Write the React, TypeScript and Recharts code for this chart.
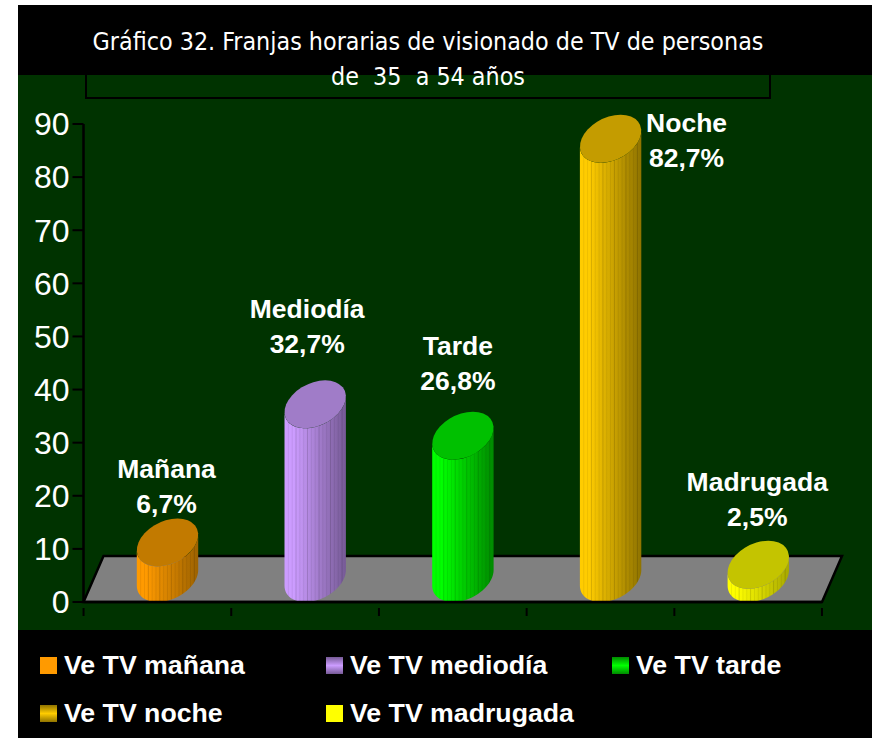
import React from 'react';
import { BarChart, Bar, XAxis, YAxis, ReferenceLine, LabelList } from 'recharts';

const franjas = ['Mañana', 'Mediodía', 'Tarde', 'Noche', 'Madrugada'];
const porcentajes = [6.7, 32.7, 26.8, 82.7, 2.5];
const etiquetas = ['6,7%', '32,7%', '26,8%', '82,7%', '2,5%'];
const leyenda = ['Ve TV mañana', 'Ve TV mediodía', 'Ve TV tarde', 'Ve TV noche', 'Ve TV madrugada'];
const yTicks = [0, 10, 20, 30, 40, 50, 60, 70, 80, 90];

const topColors = ['#C27A00', '#A07CC8', '#00C000', '#C49C00', '#C4C400'];
const lightColors = ['#FF9A00', '#CC9CFF', '#00FF00', '#FFCC00', '#FFFF00'];
const darkColors = ['#9C6200', '#765A96', '#008A00', '#8F7300', '#A8A800'];

// where each two-line label sits relative to the top of its cylinder
const labelDx = [-1, -8, -5, 76, -1];
const labelDy = [-7, -29, -24, 50, -17];

const chartData = franjas.map((name, i) => ({ name, value: porcentajes[i], label: etiquetas[i] }));

const DEPTH_X = 20;
const DEPTH_Y = 46;
const ELLIPSE_H = 24;
const BAND = 147.6;
const FONT = '"Liberation Sans", Arial, sans-serif';

const ellipsePoint = (cx: number, cy: number, a: number, t: number) => [
  cx + a * Math.cos(t) + (DEPTH_X / 2) * Math.sin(t),
  cy - ELLIPSE_H * Math.sin(t),
];

const Cylinder = (props: any) => {
  const { x, y, width, height, index } = props;
  const a = width / 2;
  const cx = x + width / 2 + DEPTH_X / 2;
  const topY = y - ELLIPSE_H;
  const baseY = y + height - ELLIPSE_H;
  const t0 = Math.atan2(DEPTH_X / 2, a);

  // side of the cylinder: lower half of base ellipse, then lower half of top ellipse
  const pts: number[][] = [];
  for (let k = 0; k <= 40; k++) pts.push(ellipsePoint(cx, baseY, a, t0 + Math.PI + (Math.PI * k) / 40));
  for (let k = 40; k >= 0; k--) pts.push(ellipsePoint(cx, topY, a, t0 + Math.PI + (Math.PI * k) / 40));
  const body = 'M' + pts.map((p) => `${p[0].toFixed(1)},${p[1].toFixed(1)}`).join('L') + 'Z';

  const halfW = Math.sqrt(a * a + (DEPTH_X / 2) * (DEPTH_X / 2));
  const stripes = [];
  for (let k = 1; k < 16; k++) {
    const sx = cx - halfW + (k * 2 * halfW) / 16;
    stripes.push(
      <line key={k} x1={sx} x2={sx} y1={topY - 30} y2={baseY + 30} stroke="#000" strokeOpacity={k % 3 === 0 ? 0.14 : 0.07} strokeWidth={1} />
    );
  }

  return (
    <g>
      <clipPath id={`cyl-${index}`}>
        <path d={body} />
      </clipPath>
      <path d={body} fill={`url(#side-${index})`} />
      <g clipPath={`url(#cyl-${index})`}>{stripes}</g>
      <circle r={1} fill={topColors[index]} transform={`matrix(${a},0,${DEPTH_X / 2},${-ELLIPSE_H},${cx},${topY})`} />
    </g>
  );
};

const Floor = (props: any) => {
  const { x1, x2, y1 } = props.x1 !== undefined ? props : { x1: props.viewBox.x, x2: props.viewBox.x + props.viewBox.width, y1: props.viewBox.y + props.viewBox.height };
  const pts = [
    [x1, y1],
    [x1 + DEPTH_X, y1 - DEPTH_Y],
    [x2 + DEPTH_X, y1 - DEPTH_Y],
    [x2, y1],
  ];
  return <polygon points={pts.map((p) => p.join(',')).join(' ')} fill="#808080" stroke="#000" strokeWidth={2.5} />;
};

const BoundaryTick = (props: any) => {
  const { x, y, index } = props;
  return (
    <g>
      <line x1={x - BAND / 2} x2={x - BAND / 2} y1={y} y2={y + 8} stroke="#000" strokeWidth={2} />
      {index === franjas.length - 1 && <line x1={x + BAND / 2} x2={x + BAND / 2} y1={y} y2={y + 8} stroke="#000" strokeWidth={2} />}
    </g>
  );
};

const TwoLineLabel = (props: any) => {
  const { x, y, width, index } = props;
  const cx = x + width / 2 + DEPTH_X / 2 + labelDx[index];
  const top = y - DEPTH_Y + labelDy[index];
  return (
    <text textAnchor="middle" fill="#fff" fontFamily={FONT} fontWeight="bold" fontSize={26.5}>
      <tspan x={cx} y={top - 35}>{franjas[index]}</tspan>
      <tspan x={cx} y={top}>{etiquetas[index]}</tspan>
    </text>
  );
};

const legendX = [40, 326, 612, 40, 326];
const legendY = [654, 654, 654, 702, 702];
const swatches = [
  '#FF9A00',
  'linear-gradient(#765A96, #CC9CFF 50%, #765A96)',
  'linear-gradient(#008A00, #00FF00 50%, #008A00)',
  'linear-gradient(#8F7300, #FFCC00 50%, #8F7300)',
  '#FFFF00',
];

export default function App() {
  return (
    <div style={{ position: 'absolute', left: 0, top: 0, width: 872, height: 738, background: '#fff', overflow: 'hidden' }}>
      <div style={{ position: 'absolute', left: 18, top: 5, width: 854, height: 733, background: '#000' }} />
      <div style={{ position: 'absolute', left: 18, top: 75, width: 854, height: 555, background: '#003300' }} />
      <div style={{ position: 'absolute', left: 85, top: 75, width: 682, height: 22, borderLeft: '2px solid #000', borderRight: '2px solid #000', borderBottom: '2px solid #000' }} />

      <BarChart
        width={872}
        height={738}
        data={chartData}
        margin={{ top: 124, right: 50, bottom: 116, left: 0 }}
        barSize={58}
        style={{ position: 'absolute', left: 0, top: 0 }}
      >
        <defs>
          {franjas.map((f, i) => (
            <linearGradient key={f} id={`side-${i}`} x1="0" y1="0" x2="1" y2="0">
              <stop offset="0" stopColor={lightColors[i]} />
              <stop offset="0.15" stopColor={lightColors[i]} />
              <stop offset="1" stopColor={darkColors[i]} />
            </linearGradient>
          ))}
        </defs>
        <ReferenceLine y={0} shape={<Floor />} zIndex={-1} />
        <XAxis
          dataKey="name"
          height={20}
          axisLine={{ stroke: '#000', strokeWidth: 2.5 }}
          tickLine={false}
          tick={<BoundaryTick />}
          tickMargin={0}
          interval={0}
          tickFormatter={(v: string) => v}
        />
        <YAxis
          width={83.5}
          domain={[0, 90]}
          ticks={yTicks}
          interval={0}
          axisLine={{ stroke: '#000', strokeWidth: 2.5 }}
          tickLine={{ stroke: '#000', strokeWidth: 2 }}
          tickSize={11}
          tickMargin={3}
          tick={{ fill: '#fff', fontSize: 32, fontFamily: FONT }}
        />
        <Bar dataKey="value" shape={<Cylinder />} isAnimationActive={false}>
          <LabelList dataKey="label" content={<TwoLineLabel />} />
        </Bar>
      </BarChart>

      <div style={{ position: 'absolute', left: 16, top: 24, width: 824, textAlign: 'center', color: '#fff', fontFamily: '"DejaVu Sans Condensed", "DejaVu Sans", sans-serif', fontSize: 24.8, lineHeight: '35px', whiteSpace: 'pre' }}>
        {'Gráfico 32. Franjas horarias de visionado de TV de personas\nde  35  a 54 años'}
      </div>

      {leyenda.map((name, i) => (
        <div key={name}>
          <div style={{ position: 'absolute', left: legendX[i], top: legendY[i] + 3, width: 17, height: 17, background: swatches[i] }} />
          <div style={{ position: 'absolute', left: legendX[i] + 24, top: legendY[i] - 4, color: '#fff', fontFamily: FONT, fontWeight: 'bold', fontSize: 26.7, lineHeight: '30px', whiteSpace: 'nowrap' }}>
            {name}
          </div>
        </div>
      ))}
    </div>
  );
}
